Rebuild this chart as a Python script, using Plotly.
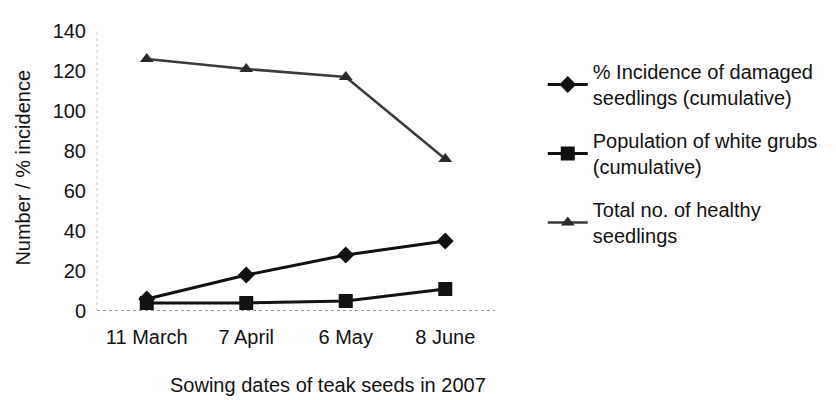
import plotly.graph_objects as go

dates = ["11 March", "7 April", "6 May", "8 June"]
damaged_pct = [6, 18, 28, 35]
white_grubs = [4, 4, 5, 11]
healthy = [126, 121, 117, 76]

names = [
    "% Incidence of damaged<br>seedlings (cumulative)",
    "Population of white grubs<br>(cumulative)",
    "Total no. of healthy<br>seedlings",
]
y_ticks = [0, 20, 40, 60, 80, 100, 120, 140]

FONT = "Liberation Sans, Arial, sans-serif"
fs = 20

fig = go.Figure()
fig.add_trace(go.Scatter(
    x=dates, y=damaged_pct, name=names[0], mode="lines+markers", legendgroup="a",
    line=dict(color="#111111", width=3),
    marker=dict(symbol="diamond", size=13, color="#111111"),
))
fig.add_trace(go.Scatter(
    x=dates, y=white_grubs, name=names[1], mode="lines+markers", legendgroup="b",
    line=dict(color="#111111", width=3),
    marker=dict(symbol="square", size=14, color="#111111"),
))
fig.add_trace(go.Scatter(
    x=dates, y=healthy, name=names[2], mode="lines+markers", legendgroup="c",
    line=dict(color="#3a3a3a", width=2.5),
    marker=dict(symbol="triangle-up", size=12, color="#2a2a2a"),
))

# dotted axis lines
fig.add_shape(type="line", xref="paper", yref="y", x0=0, x1=1, y0=0, y1=0,
              line=dict(color="#777777", width=1.5, dash="dot"))
fig.add_shape(type="line", xref="paper", yref="paper", x0=0, x1=0, y0=0, y1=1,
              line=dict(color="#cccccc", width=1, dash="dot"))

fig.add_annotation(text="Sowing dates of teak seeds in 2007", xref="paper", yref="paper",
                   x=0.58, y=-0.263, showarrow=False, xanchor="center", yanchor="middle",
                   font=dict(family=FONT, size=fs, color="#111111"))
fig.add_annotation(text="Number / % incidence", xref="paper", yref="paper",
                   x=-0.186, y=0.512, showarrow=False, textangle=-90,
                   xanchor="center", yanchor="middle",
                   font=dict(family=FONT, size=fs, color="#111111"))

fig.update_layout(
    width=828, height=392,
    margin=dict(l=89, r=341, t=14, b=89),
    paper_bgcolor="white", plot_bgcolor="white",
    font=dict(family=FONT, size=fs, color="#111111"),
    showlegend=True,
    legend=dict(x=1.12, y=0.925, xanchor="left", yanchor="top", itemwidth=40,
                font=dict(family=FONT, size=fs, color="#111111"),
                tracegroupgap=14, traceorder="grouped", bgcolor="rgba(0,0,0,0)"),
    xaxis=dict(type="category", range=[-0.5, 3.5], showgrid=False, showline=False,
               zeroline=False, ticks="", ticklabelstandoff=12,
               tickfont=dict(family=FONT, size=fs, color="#111111")),
    yaxis=dict(range=[0, 140], tickvals=y_ticks, showgrid=False, showline=False,
               zeroline=False, ticks="", ticklabelstandoff=10,
               tickfont=dict(family=FONT, size=fs, color="#111111")),
)

fig.write_html("out.html")
